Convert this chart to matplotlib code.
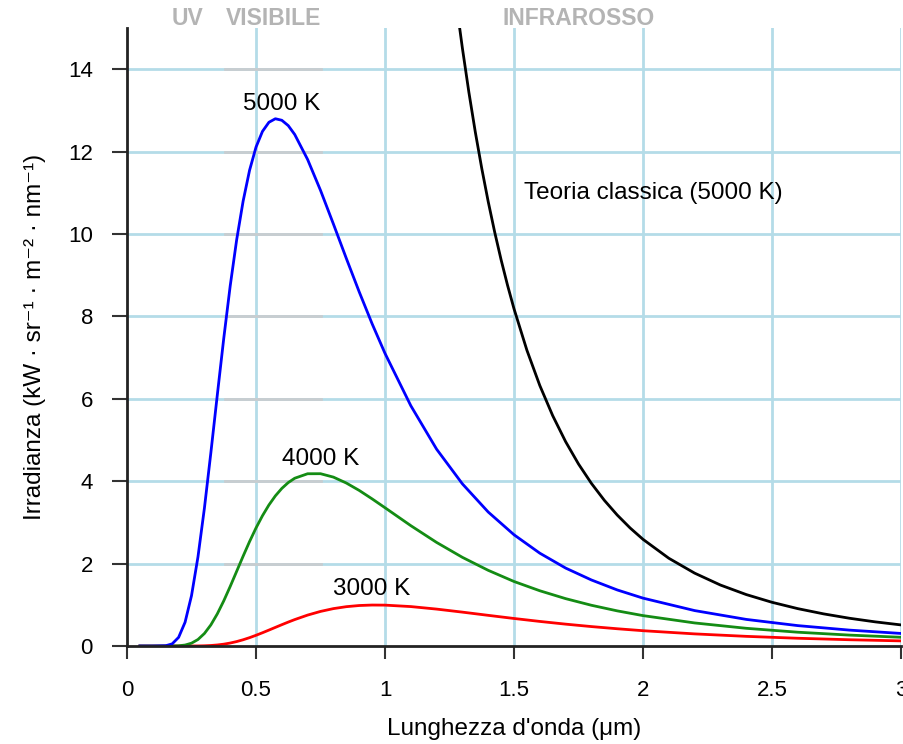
import matplotlib
matplotlib.use('Agg')
import matplotlib.pyplot as plt

plt.rcParams['font.family'] = ['Liberation Sans', 'DejaVu Sans']

# wavelength in um
wl = [0.05, 0.1, 0.15, 0.175, 0.2, 0.225, 0.25, 0.275, 0.3, 0.325, 0.35, 0.375,
      0.4, 0.425, 0.45, 0.475, 0.5, 0.525, 0.55, 0.575, 0.6, 0.625, 0.65, 0.7,
      0.75, 0.8, 0.85, 0.9, 0.95, 1.0, 1.1, 1.2, 1.3, 1.4, 1.5, 1.6, 1.7,
      1.8, 1.9, 2.0, 2.2, 2.4, 2.6, 2.8, 3.0]

# irradiance, kW / sr / m2 / nm
t5000 = [0.0, 0.0, 0.007, 0.052, 0.21, 0.576, 1.223, 2.162, 3.346, 4.692, 6.094,
         7.468, 8.742, 9.859, 10.796, 11.546, 12.108, 12.49, 12.711, 12.797,
         12.76, 12.63, 12.415, 11.808, 11.059, 10.242, 9.408, 8.595, 7.821,
         7.102, 5.832, 4.777, 3.935, 3.252, 2.7, 2.253, 1.892, 1.603, 1.361,
         1.162, 0.86, 0.646, 0.495, 0.386, 0.305]
t4000 = [0.0, 0.0, 0.0001, 0.0009, 0.0058, 0.0235, 0.0688, 0.158, 0.304, 0.5125,
         0.7805, 1.0966, 1.4464, 1.813, 2.18, 2.535, 2.865, 3.162, 3.423, 3.644,
         3.825, 3.967, 4.072, 4.181, 4.182, 4.099, 3.956, 3.776, 3.571, 3.356,
         2.921, 2.514, 2.152, 1.837, 1.566, 1.341, 1.15, 0.989, 0.853, 0.738,
         0.56, 0.43, 0.335, 0.265, 0.212]
t3000 = [0.0, 0.0, 0.0, 0.0, 0.0, 0.0001, 0.0006, 0.002, 0.0056, 0.0128, 0.0254,
         0.0448, 0.0722, 0.1079, 0.1517, 0.2029, 0.2602, 0.3219, 0.3865, 0.4521,
         0.5174, 0.581, 0.6415, 0.7505, 0.8396, 0.9078, 0.9547, 0.9829, 0.9944,
         0.9923, 0.9572, 0.896, 0.8223, 0.7445, 0.6683, 0.5967, 0.531, 0.4718,
         0.419, 0.3715, 0.2945, 0.2346, 0.1882, 0.1523, 0.1247]

# classical theory (Rayleigh-Jeans) at 5000 K
wl_rj = [1.28, 1.3, 1.325, 1.35, 1.375, 1.4, 1.425, 1.45, 1.475, 1.5, 1.55, 1.6,
         1.65, 1.7, 1.75, 1.8, 1.85, 1.9, 1.95, 2.0, 2.1, 2.2, 2.3, 2.4, 2.5,
         2.6, 2.7, 2.8, 2.9, 3.0]
rj5000 = [15.43, 14.506, 13.442, 12.473, 11.591, 10.785, 10.048, 9.372, 8.753,
          8.184, 7.178, 6.322, 5.59, 4.96, 4.417, 3.947, 3.537, 3.179, 2.865,
          2.589, 2.13, 1.769, 1.48, 1.249, 1.061, 0.907, 0.78, 0.674, 0.586,
          0.512]

xticks = [0, 0.5, 1, 1.5, 2, 2.5, 3]
xticklabels = ['0', '0.5', '1', '1.5', '2', '2.5', '3']
yticks = [0, 2, 4, 6, 8, 10, 12, 14]

grid_col = '#b4dce8'

fig = plt.figure(figsize=(9.04, 7.44), dpi=100)
ax = fig.add_axes([0.1405, 0.1317, 0.8562, 0.8307])

ax.set_xlim(0, 3)
ax.set_ylim(0, 15)

for x in xticks[1:]:
    ax.axvline(x, color=grid_col, lw=2, zorder=0)
for y in yticks[1:]:
    ax.axhline(y, color=grid_col, lw=2, zorder=0)
    # visible band tint on gridlines
    ax.plot([0.38, 0.75], [y, y], color='#c8cdd0', lw=2, zorder=0.5)

ax.plot(wl, t3000, color='#ff0000', lw=2, zorder=3)
ax.plot(wl, t4000, color='#148c14', lw=2, zorder=3)
ax.plot(wl, t5000, color='#0000ff', lw=2, zorder=3)
ax.plot(wl_rj, rj5000, color='black', lw=2, zorder=3)

lab = dict(fontsize=17.5, ha='center', va='center')
ax.text(0.60, 13.15, '5000 K', **lab)
ax.text(0.75, 4.55, '4000 K', **lab)
ax.text(0.95, 1.38, '3000 K', **lab)
ax.text(2.04, 11.0, 'Teoria classica (5000 K)', **lab)

top = dict(fontsize=16.5, fontweight='bold', color='#b4b4b4', ha='center',
           va='center', clip_on=False)
ax.text(0.233, 15.23, 'UV', **top)
ax.text(0.566, 15.23, 'VISIBILE', **top)
ax.text(1.752, 15.23, 'INFRAROSSO', **top)

ax.spines['top'].set_visible(False)
ax.spines['right'].set_visible(False)
for s in ['left', 'bottom']:
    ax.spines[s].set_linewidth(2)
    ax.spines[s].set_color('#222222')
    ax.spines[s].set_zorder(4)

ax.set_xticks(xticks)
ax.set_xticklabels(xticklabels)
ax.set_yticks(yticks)
ax.tick_params(axis='x', length=9.5, width=1.5, pad=15, labelsize=16, color='#333333')
ax.tick_params(axis='y', length=11, width=1.5, pad=13.5, labelsize=16, color='#333333')

ax.set_xlabel("Lunghezza d'onda (μm)", fontsize=17.5)
ax.set_ylabel('Irradianza (kW · sr⁻¹ · m⁻² · nm⁻¹)', fontsize=17.5)
ax.xaxis.set_label_coords(0.5, -0.1165)
ax.yaxis.set_label_coords(-0.1047, 0.5)

fig.savefig('out.png', dpi=100)
